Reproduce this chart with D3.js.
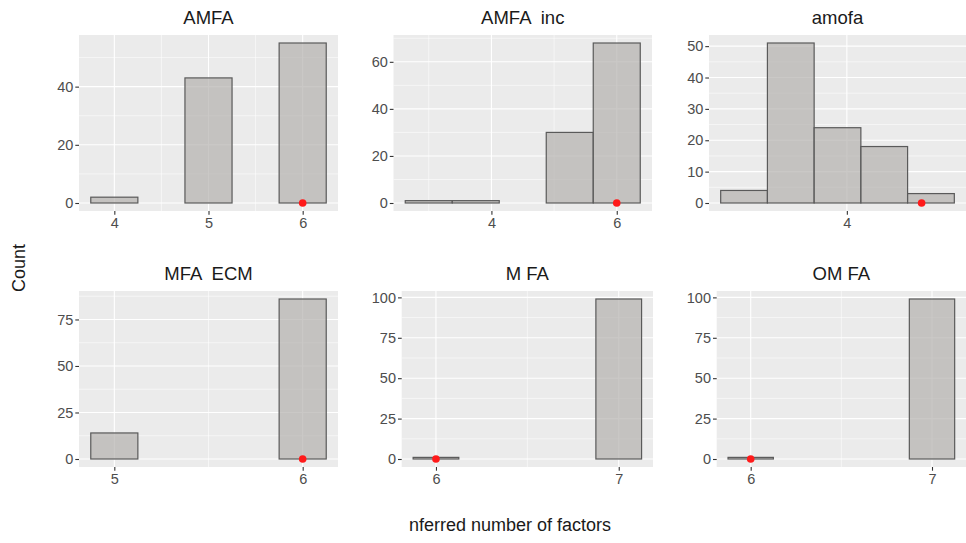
<!DOCTYPE html>
<html>
<head>
<meta charset="utf-8">
<script src="https://cdn.jsdelivr.net/npm/d3@7"></script>
<style>
  body { margin: 0; background: #fff; }
  text { font-family: "Liberation Sans", Arial, sans-serif; }
</style>
</head>
<body>
<script>
// facet names, histogram bins (centres) and counts, true number of factors
var panelNames = ["AMFA", "AMFA  inc", "amofa", "MFA  ECM", "M FA", "OM FA"];
var binCenters = [
  [4, 4.5, 5, 5.5, 6],
  [3, 3.75, 4.5, 5.25, 6],
  [3.45, 3.7, 3.95, 4.2, 4.45],
  [5, 5.25, 5.5, 5.75, 6],
  [6, 6.25, 6.5, 6.75, 7],
  [6, 6.25, 6.5, 6.75, 7]
];
var binCounts = [
  [2, 0, 43, 0, 55],
  [1, 1, 0, 30, 68],
  [4, 51, 24, 18, 3],
  [14, 0, 0, 0, 86],
  [1, 0, 0, 0, 99],
  [1, 0, 0, 0, 99]
];
var trueValues = [6, 6, 4.4, 6, 6, 6];
var xTicks = [[4, 5, 6], [4, 6], [4], [5, 6], [6, 7], [6, 7]];
var yTicks = [
  [0, 20, 40],
  [0, 20, 40, 60],
  [0, 10, 20, 30, 40, 50],
  [0, 25, 50, 75],
  [0, 25, 50, 75, 100],
  [0, 25, 50, 75, 100]
];

var svgWidth = 966;
var svgHeight = 543;

// panel boxes (left, right, top, bottom)
var boxes = [
  [79, 338, 35, 211],
  [393.5, 652, 35, 211],
  [709, 966, 35, 211],
  [79, 338, 291, 467],
  [401.7, 653, 291, 467],
  [716.7, 966, 291, 467]
];

var svg = d3.select("body")
  .append("svg")
  .attr("width", svgWidth)
  .attr("height", svgHeight);

function minorBreaks(ticks, domain) {
  if (ticks.length < 2) return [];
  var step = ticks[1] - ticks[0];
  var ext = [ticks[0] - step].concat(ticks, [ticks[ticks.length - 1] + step]);
  var out = [];
  for (var i = 0; i < ext.length - 1; i++) {
    var m = (ext[i] + ext[i + 1]) / 2;
    if (m > domain[0] && m < domain[1]) out.push(m);
  }
  return out;
}

panelNames.forEach(function(name, i) {
  var b = boxes[i];
  var centers = binCenters[i];
  var counts = binCounts[i];
  var w = centers[1] - centers[0];
  var lo = centers[0] - w / 2, hi = centers[centers.length - 1] + w / 2;
  var pad = (hi - lo) * 0.05;
  var ymax = d3.max(counts);

  var xScale = d3.scaleLinear().domain([lo - pad, hi + pad]).range([b[0], b[1]]);
  var yScale = d3.scaleLinear().domain([-ymax * 0.05, ymax * 1.05]).range([b[3], b[2]]);

  var g = svg.append("g");

  g.append("rect")
    .attr("x", b[0]).attr("y", b[2])
    .attr("width", b[1] - b[0]).attr("height", b[3] - b[2])
    .attr("fill", "#ebebeb");

  // minor grid
  g.selectAll(".xminor")
    .data(minorBreaks(xTicks[i], xScale.domain()))
    .enter().append("line")
    .attr("x1", d => xScale(d)).attr("x2", d => xScale(d))
    .attr("y1", b[2]).attr("y2", b[3])
    .attr("stroke", "#fff").attr("stroke-width", 0.55);
  g.selectAll(".yminor")
    .data(minorBreaks(yTicks[i], yScale.domain()))
    .enter().append("line")
    .attr("y1", d => yScale(d)).attr("y2", d => yScale(d))
    .attr("x1", b[0]).attr("x2", b[1])
    .attr("stroke", "#fff").attr("stroke-width", 0.55);

  // major grid
  g.selectAll(".xmajor")
    .data(xTicks[i])
    .enter().append("line")
    .attr("x1", d => xScale(d)).attr("x2", d => xScale(d))
    .attr("y1", b[2]).attr("y2", b[3])
    .attr("stroke", "#fff").attr("stroke-width", 1.1);
  g.selectAll(".ymajor")
    .data(yTicks[i])
    .enter().append("line")
    .attr("y1", d => yScale(d)).attr("y2", d => yScale(d))
    .attr("x1", b[0]).attr("x2", b[1])
    .attr("stroke", "#fff").attr("stroke-width", 1.1);

  // bars
  g.selectAll(".bar")
    .data(centers)
    .enter().append("rect")
    .attr("x", d => xScale(d - w / 2))
    .attr("width", xScale(w) - xScale(0))
    .attr("y", (d, j) => yScale(counts[j]))
    .attr("height", (d, j) => yScale(0) - yScale(counts[j]))
    .attr("fill", "#b3b1ae")
    .attr("fill-opacity", 0.7)
    .attr("stroke", "#5a5a5a")
    .attr("stroke-width", 1.2);

  // true value
  g.append("circle")
    .attr("cx", xScale(trueValues[i]))
    .attr("cy", yScale(0))
    .attr("r", 3.8)
    .attr("fill", "#ff1a1a");

  // axes
  var xAxis = d3.axisBottom(xScale).tickValues(xTicks[i]).tickFormat(d3.format("d"))
    .tickSize(3.7).tickPadding(3);
  var yAxis = d3.axisLeft(yScale).tickValues(yTicks[i]).tickFormat(d3.format("d"))
    .tickSize(3.7).tickPadding(2);

  var xg = g.append("g")
    .attr("transform", `translate(0, ${b[3]})`)
    .call(xAxis);
  var yg = g.append("g")
    .attr("transform", `translate(${b[0]}, 0)`)
    .call(yAxis);

  [xg, yg].forEach(function(a) {
    a.select(".domain").remove();
    a.selectAll(".tick line").attr("stroke", "#333").attr("stroke-width", 1.1);
    a.selectAll(".tick text")
      .attr("fill", "#4d4d4d")
      .style("font-size", "14.5px")
      .style("font-family", "'Liberation Sans', Arial, sans-serif");
  });

  g.append("text")
    .attr("x", (b[0] + b[1]) / 2)
    .attr("y", b[2] - 11)
    .attr("text-anchor", "middle")
    .style("font-size", "18.5px")
    .style("white-space", "pre")
    .attr("fill", "#1a1a1a")
    .text(name);
});

svg.append("text")
  .attr("transform", "translate(25, 268) rotate(-90)")
  .attr("text-anchor", "middle")
  .style("font-size", "18px")
  .attr("fill", "#1a1a1a")
  .text("Count");

svg.append("text")
  .attr("x", 510)
  .attr("y", 531)
  .attr("text-anchor", "middle")
  .style("font-size", "18px")
  .attr("fill", "#1a1a1a")
  .text("nferred number of factors");
</script>
</body>
</html>
